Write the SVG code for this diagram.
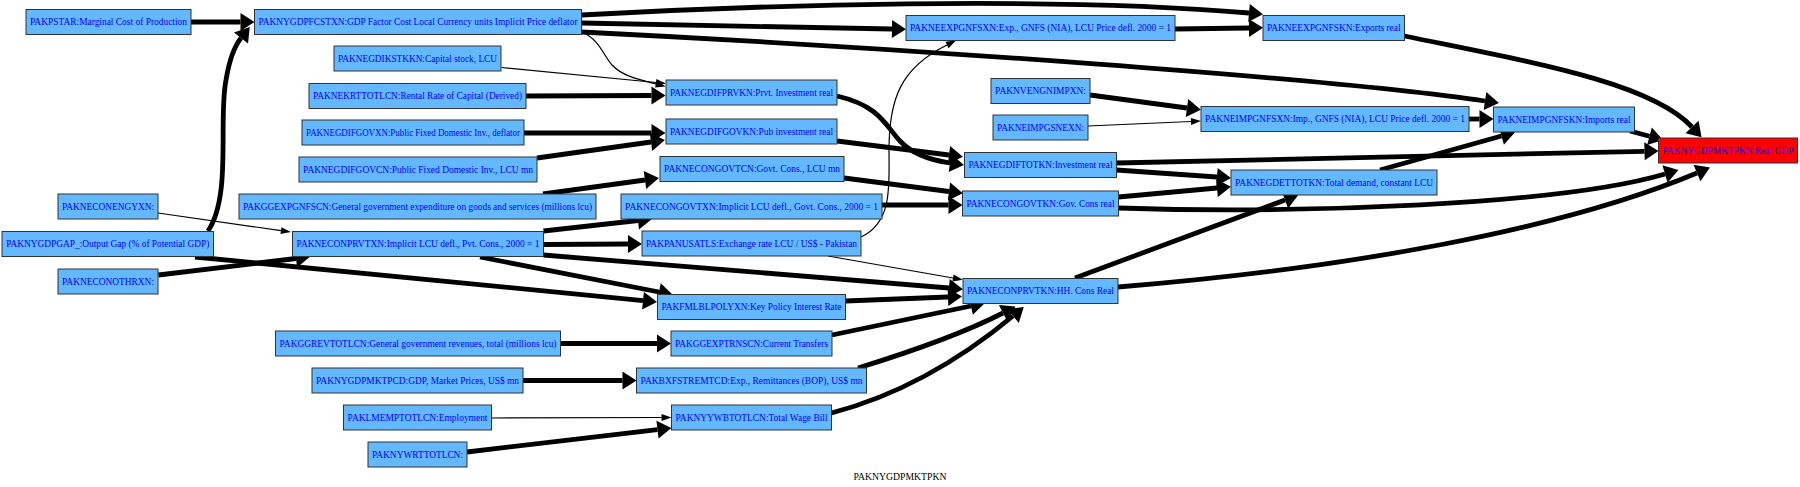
<svg xmlns="http://www.w3.org/2000/svg" width="1800" height="487" viewBox="0 0 1800 487">
<style>
.n rect{fill:#63b8ff;stroke:#333;stroke-width:1}
.n text{font-family:"Liberation Serif","Times New Roman",serif;font-size:9.7px;fill:#0000ff;text-anchor:middle}
.e path{fill:none;stroke:#000}
.k{stroke-width:4.8;marker-end:url(#ah)}
.t{stroke-width:1.2;marker-end:url(#at)}
</style>
<defs>
<marker id="ah" markerUnits="userSpaceOnUse" markerWidth="16" markerHeight="20" viewBox="0 0 16 20" refX="0" refY="10" orient="auto" overflow="visible"><path d="M0,1 L14,10 L0,19 z" fill="#000"/></marker>
<marker id="at" markerUnits="userSpaceOnUse" markerWidth="11" markerHeight="8" viewBox="0 0 11 8" refX="0" refY="4" orient="auto" overflow="visible"><path d="M0,0.5 L10,4 L0,7.5 z" fill="#000"/></marker>
</defs>
<rect width="1800" height="487" fill="#fff"/>
<g id="connectors" class="e">
<path class="k" d="M191,22 L240.5,22"/>
<path class="k" d="M208,231 C232,195 218,120 226,80 C229,62 233,48 241,38"/>
<path class="k" d="M581.5,23 L892,29"/>
<path class="k" d="M581.5,15 C760,5 1050,-4 1249,13"/>
<path class="k" d="M581.5,32 C900,48 1330,78 1485,101"/>
<path class="t" d="M581.7,31.7 C600,40 603,55 612,65 C622,76 640,80 656,84"/>
<path class="t" d="M501.5,67.5 L656,82.5"/>
<path class="k" d="M526,96 L651.5,95.5"/>
<path class="k" d="M524,133 L651.5,133"/>
<path class="k" d="M537,158 L651,142"/>
<path class="k" d="M543,194 L645,180"/>
<path class="t" d="M158,213 L281,230.6"/>
<path class="k" d="M158.4,275 L296,258.5"/>
<path class="k" d="M195,257 L643,300.6"/>
<path class="k" d="M543.5,231 L638,220.5"/>
<path class="k" d="M543.5,244.5 L628,244"/>
<path class="k" d="M543.5,255 L949,288"/>
<path class="k" d="M480,257 L659,292"/>
<path class="k" d="M837,96 C880,106 885,125 900,141 C912,154 930,160 950,163"/>
<path class="k" d="M837,141 L949,155"/>
<path class="k" d="M844,178 L949,191.5"/>
<path class="k" d="M882,205 L948.5,205"/>
<path class="t" d="M861,237 C893,222 889,185 889,150 C889,100 900,68 947,45"/>
<path class="t" d="M828,256 L953,278"/>
<path class="k" d="M1175,29 L1249,28"/>
<path class="k" d="M1404.5,36 C1530,62 1650,82 1692,127"/>
<path class="k" d="M1090,95 L1187,108"/>
<path class="t" d="M1088,126 L1191,121.5"/>
<path class="k" d="M1469,119 L1479.5,119"/>
<path class="k" d="M1630,131 L1649.5,136.3"/>
<path class="k" d="M1116.5,163 L1644.5,151.3"/>
<path class="k" d="M1116.5,170 L1217,177"/>
<path class="k" d="M1118.5,197 L1217,188"/>
<path class="k" d="M1118.5,208 C1300,214 1560,205 1665,174"/>
<path class="k" d="M1380,170 L1501.5,136"/>
<path class="k" d="M1075,278 L1285,200"/>
<path class="k" d="M1118,287 C1350,268 1560,230 1697,173"/>
<path class="k" d="M845.5,301 L948,297"/>
<path class="k" d="M560.5,343.5 L657,343.5"/>
<path class="k" d="M832,335 L971,306"/>
<path class="k" d="M523,380.5 L622.5,380.5"/>
<path class="k" d="M858,368 C910,352 960,335 1003,313"/>
<path class="t" d="M491.5,418 L661.5,417.5"/>
<path class="k" d="M467,452 L657.5,429.6"/>
<path class="k" d="M831.5,413 C900,395 960,360 1013,316"/>
</g>
<g id="PAKPSTAR" class="n"><rect x="26" y="9.5" width="165" height="25"/><text x="108.5" y="25.4" textLength="157" lengthAdjust="spacingAndGlyphs">PAKPSTAR:Marginal Cost of Production</text></g>
<g id="PAKNYGDPFCSTXN" class="n"><rect x="254.5" y="9.5" width="327" height="25"/><text x="418" y="25.4" textLength="319" lengthAdjust="spacingAndGlyphs">PAKNYGDPFCSTXN:GDP Factor Cost Local Currency units Implicit Price deflator</text></g>
<g id="PAKNEGDIKSTKKN" class="n"><rect x="334" y="46" width="167" height="25"/><text x="417.5" y="61.9" textLength="159" lengthAdjust="spacingAndGlyphs">PAKNEGDIKSTKKN:Capital stock, LCU</text></g>
<g id="PAKNEKRTTOTLCN" class="n"><rect x="309" y="83.5" width="217" height="25"/><text x="417.5" y="99.4" textLength="209" lengthAdjust="spacingAndGlyphs">PAKNEKRTTOTLCN:Rental Rate of Capital (Derived)</text></g>
<g id="PAKNEGDIFGOVXN" class="n"><rect x="302" y="120" width="222" height="25"/><text x="413" y="135.9" textLength="214" lengthAdjust="spacingAndGlyphs">PAKNEGDIFGOVXN:Public Fixed Domestic Inv., deflator</text></g>
<g id="PAKNEGDIFGOVCN" class="n"><rect x="299" y="157" width="238" height="25"/><text x="418" y="172.9" textLength="230" lengthAdjust="spacingAndGlyphs">PAKNEGDIFGOVCN:Public Fixed Domestic Inv., LCU mn</text></g>
<g id="PAKGGEXPGNFSCN" class="n"><rect x="239" y="194" width="357" height="25"/><text x="417.5" y="209.9" textLength="349" lengthAdjust="spacingAndGlyphs">PAKGGEXPGNFSCN:General government expenditure on goods and services (millions lcu)</text></g>
<g id="PAKNECONENGYXN" class="n"><rect x="58" y="194" width="100" height="25"/><text x="108" y="209.9" textLength="92" lengthAdjust="spacingAndGlyphs">PAKNECONENGYXN:</text></g>
<g id="PAKNYGDPGAP_" class="n"><rect x="2" y="231.5" width="211.5" height="25"/><text x="107.75" y="247.4" textLength="203" lengthAdjust="spacingAndGlyphs">PAKNYGDPGAP_:Output Gap (% of Potential GDP)</text></g>
<g id="PAKNECONPRVTXN" class="n"><rect x="292.5" y="231.5" width="251" height="25"/><text x="418" y="247.4" textLength="243" lengthAdjust="spacingAndGlyphs">PAKNECONPRVTXN:Implicit LCU defl., Pvt. Cons., 2000 = 1</text></g>
<g id="PAKNECONOTHRXN" class="n"><rect x="58" y="269" width="100" height="25"/><text x="108" y="284.9" textLength="92" lengthAdjust="spacingAndGlyphs">PAKNECONOTHRXN:</text></g>
<g id="PAKGGREVTOTLCN" class="n"><rect x="275.5" y="331" width="285" height="25"/><text x="418" y="346.9" textLength="277" lengthAdjust="spacingAndGlyphs">PAKGGREVTOTLCN:General government revenues, total (millions lcu)</text></g>
<g id="PAKNYGDPMKTPCD" class="n"><rect x="312" y="368" width="211" height="25"/><text x="417.5" y="383.9" textLength="203" lengthAdjust="spacingAndGlyphs">PAKNYGDPMKTPCD:GDP, Market Prices, US$ mn</text></g>
<g id="PAKLMEMPTOTLCN" class="n"><rect x="343.5" y="405" width="148" height="25"/><text x="417.5" y="420.9" textLength="140" lengthAdjust="spacingAndGlyphs">PAKLMEMPTOTLCN:Employment</text></g>
<g id="PAKNYWRTTOTLCN" class="n"><rect x="368" y="442" width="99" height="25"/><text x="417.5" y="457.9" textLength="91" lengthAdjust="spacingAndGlyphs">PAKNYWRTTOTLCN:</text></g>
<g id="PAKNEEXPGNFSXN" class="n"><rect x="906" y="15.5" width="269" height="25"/><text x="1040.5" y="31.4" textLength="261" lengthAdjust="spacingAndGlyphs">PAKNEEXPGNFSXN:Exp., GNFS (NIA), LCU Price defl. 2000 = 1</text></g>
<g id="PAKNEGDIFPRVKN" class="n"><rect x="666" y="80" width="171" height="25"/><text x="751.5" y="95.9" textLength="163" lengthAdjust="spacingAndGlyphs">PAKNEGDIFPRVKN:Prvt. Investment real</text></g>
<g id="PAKNEGDIFGOVKN" class="n"><rect x="666" y="119" width="171" height="25"/><text x="751.5" y="134.9" textLength="163" lengthAdjust="spacingAndGlyphs">PAKNEGDIFGOVKN:Pub investment real</text></g>
<g id="PAKNECONGOVTCN" class="n"><rect x="660" y="156.5" width="184" height="25"/><text x="752" y="172.4" textLength="176" lengthAdjust="spacingAndGlyphs">PAKNECONGOVTCN:Govt. Cons., LCU mn</text></g>
<g id="PAKNECONGOVTXN" class="n"><rect x="621" y="194" width="261" height="25"/><text x="751.5" y="209.9" textLength="253" lengthAdjust="spacingAndGlyphs">PAKNECONGOVTXN:Implicit LCU defl., Govt. Cons., 2000 = 1</text></g>
<g id="PAKPANUSATLS" class="n"><rect x="642" y="231" width="219" height="25"/><text x="751.5" y="246.9" textLength="211" lengthAdjust="spacingAndGlyphs">PAKPANUSATLS:Exchange rate LCU / US$ - Pakistan</text></g>
<g id="PAKFMLBLPOLYXN" class="n"><rect x="657.5" y="294.5" width="188" height="25"/><text x="751.5" y="310.4" textLength="180" lengthAdjust="spacingAndGlyphs">PAKFMLBLPOLYXN:Key Policy Interest Rate</text></g>
<g id="PAKGGEXPTRNSCN" class="n"><rect x="671" y="331" width="161" height="25"/><text x="751.5" y="346.9" textLength="153" lengthAdjust="spacingAndGlyphs">PAKGGEXPTRNSCN:Current Transfers</text></g>
<g id="PAKBXFSTREMTCD" class="n"><rect x="636.5" y="368" width="230" height="25"/><text x="751.5" y="383.9" textLength="222" lengthAdjust="spacingAndGlyphs">PAKBXFSTREMTCD:Exp., Remittances (BOP), US$ mn</text></g>
<g id="PAKNYYWBTOTLCN" class="n"><rect x="671.5" y="405" width="160" height="25"/><text x="751.5" y="420.9" textLength="152" lengthAdjust="spacingAndGlyphs">PAKNYYWBTOTLCN:Total Wage Bill</text></g>
<g id="PAKNVENGNIMPXN" class="n"><rect x="991" y="78.5" width="99" height="25"/><text x="1040.5" y="94.4" textLength="91" lengthAdjust="spacingAndGlyphs">PAKNVENGNIMPXN:</text></g>
<g id="PAKNEIMPGSNEXN" class="n"><rect x="993" y="115" width="95" height="25"/><text x="1040.5" y="130.9" textLength="87" lengthAdjust="spacingAndGlyphs">PAKNEIMPGSNEXN:</text></g>
<g id="PAKNEGDIFTOTKN" class="n"><rect x="964.5" y="152.5" width="152" height="25"/><text x="1040.5" y="168.4" textLength="144" lengthAdjust="spacingAndGlyphs">PAKNEGDIFTOTKN:Investment real</text></g>
<g id="PAKNECONGOVTKN" class="n"><rect x="962.5" y="191" width="156" height="25"/><text x="1040.5" y="206.9" textLength="148" lengthAdjust="spacingAndGlyphs">PAKNECONGOVTKN:Gov. Cons real</text></g>
<g id="PAKNECONPRVTKN" class="n"><rect x="963" y="278.5" width="155" height="25"/><text x="1040.5" y="294.4" textLength="147" lengthAdjust="spacingAndGlyphs">PAKNECONPRVTKN:HH. Cons Real</text></g>
<g id="PAKNEEXPGNFSKN" class="n"><rect x="1263" y="15.5" width="141.5" height="25"/><text x="1333.75" y="31.4" textLength="133.5" lengthAdjust="spacingAndGlyphs">PAKNEEXPGNFSKN:Exports real</text></g>
<g id="PAKNEIMPGNFSXN" class="n"><rect x="1201" y="106.5" width="268" height="25"/><text x="1335" y="122.4" textLength="260" lengthAdjust="spacingAndGlyphs">PAKNEIMPGNFSXN:Imp., GNFS (NIA), LCU Price defl. 2000 = 1</text></g>
<g id="PAKNEIMPGNFSKN" class="n"><rect x="1493.5" y="107" width="141" height="25"/><text x="1564" y="122.9" textLength="133" lengthAdjust="spacingAndGlyphs">PAKNEIMPGNFSKN:Imports real</text></g>
<g id="PAKNEGDETTOTKN" class="n"><rect x="1231" y="170" width="206" height="25"/><text x="1334" y="185.9" textLength="198" lengthAdjust="spacingAndGlyphs">PAKNEGDETTOTKN:Total demand, constant LCU</text></g>
<g id="PAKNYGDPMKTPKN" class="n"><rect x="1658.5" y="138" width="139" height="25" style="fill:#ff0000"/><text x="1728" y="153.9" textLength="131" lengthAdjust="spacingAndGlyphs">PAKNYGDPMKTPKN:Real GDP</text></g>
<text x="900" y="480" font-family="Liberation Serif, Times New Roman, serif" font-size="9.7" text-anchor="middle" fill="#000">PAKNYGDPMKTPKN</text>
</svg>
